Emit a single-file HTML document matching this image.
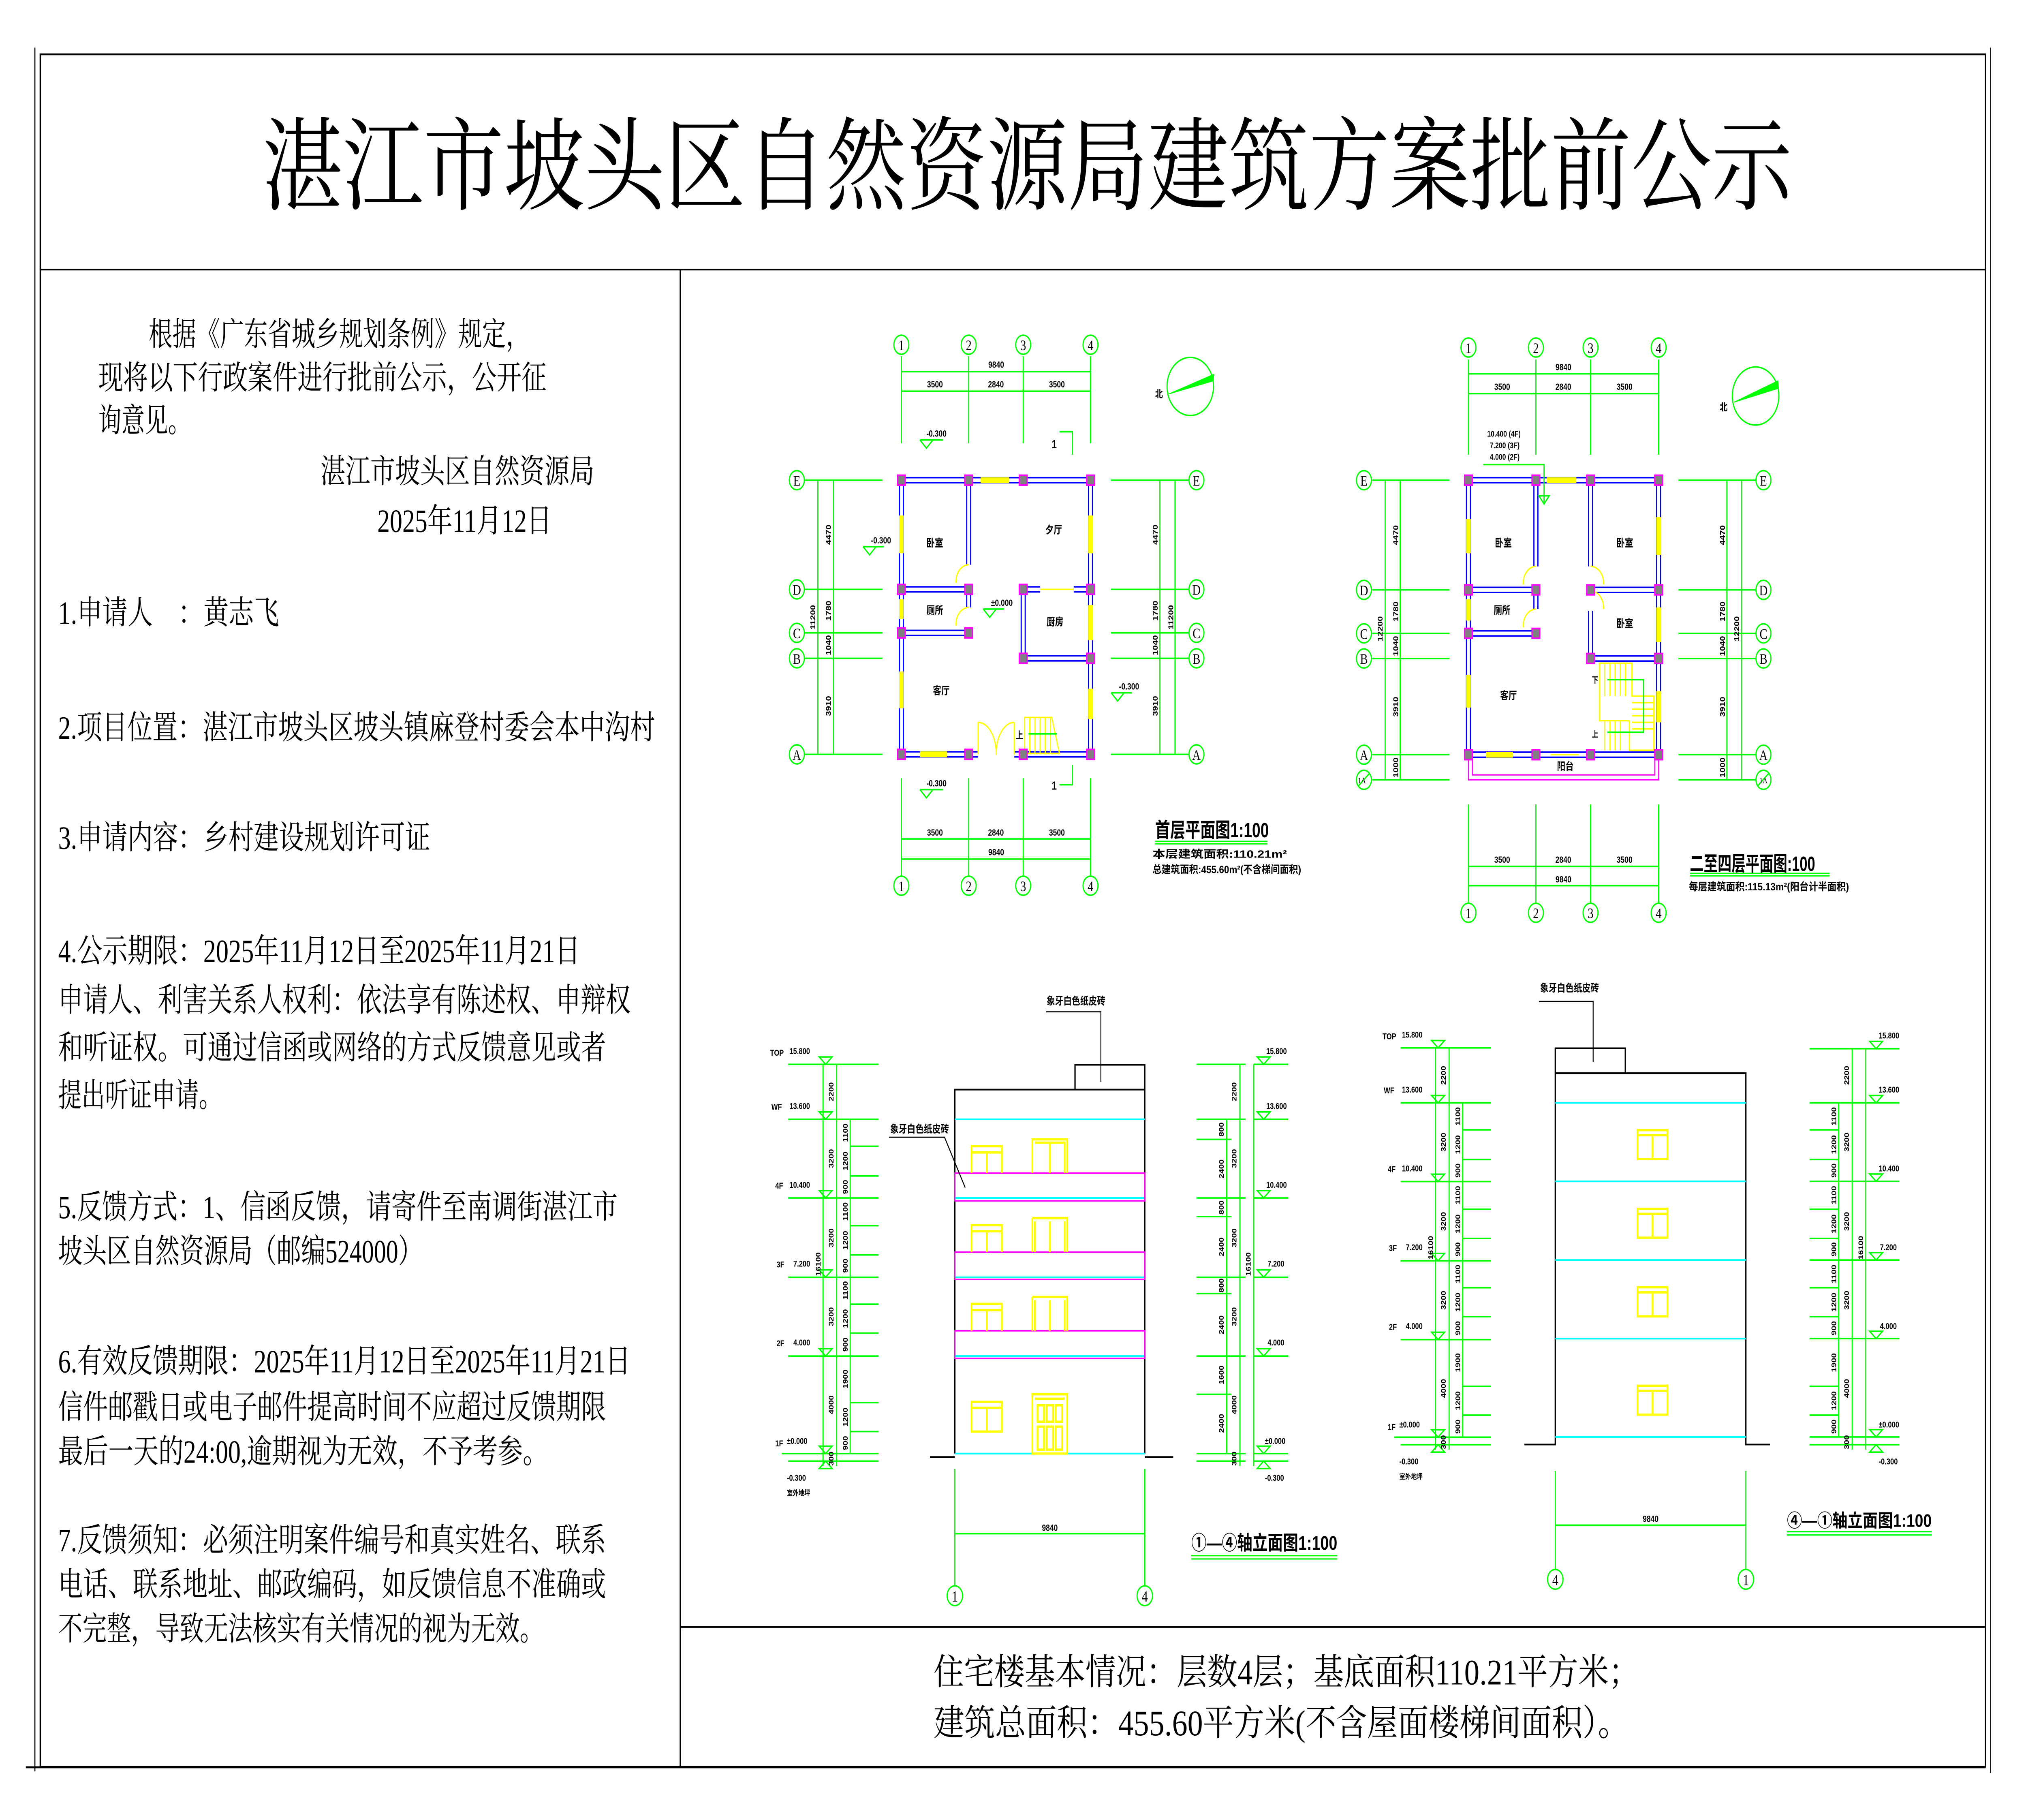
<!DOCTYPE html>
<html><head><meta charset="utf-8"><style>
html,body{margin:0;padding:0;background:#fff;overflow:hidden;width:100vw;height:100vh;}
svg{display:block;width:100vw;height:100vh;}
.s{font-family:"Liberation Serif","Noto Serif CJK SC",serif;fill:#000;}
.d{font-family:"Liberation Sans","Noto Sans CJK SC",sans-serif;fill:#000;font-weight:bold;}
.g{stroke:#00ff00;stroke-width:0.9;fill:none;}
.wb{stroke:#0000ff;stroke-width:4;fill:none;}
.ww{stroke:#fff;stroke-width:2.2;fill:none;}
.y{stroke:#ffff00;stroke-width:3.6;fill:none;}
.yl{stroke:#ffff00;stroke-width:0.9;fill:none;}
.c{fill:#fff;stroke:#00ff00;stroke-width:0.9;}
.col{fill:#808080;stroke:#ff00ff;stroke-width:1;}
</style></head><body>
<svg xmlns="http://www.w3.org/2000/svg" viewBox="0 0 1568 1108.6" preserveAspectRatio="none">
<rect width="1568" height="1108.6" fill="#fff"/>
<g stroke="#000" fill="none">
<line x1="27" y1="29" x2="27" y2="1079" stroke-width="0.8"/>
<rect x="31.2" y="33.1" width="1505.5" height="1043" stroke-width="1.1"/>
<line x1="31.2" y1="164.2" x2="1536.7" y2="164.2" stroke-width="1"/>
<line x1="526.5" y1="164.2" x2="526.5" y2="1076" stroke-width="1"/>
<line x1="526.5" y1="991" x2="1536.7" y2="991" stroke-width="1.1"/>
<line x1="1540.6" y1="29" x2="1540.6" y2="1080" stroke-width="0.6"/>
<line x1="20" y1="1076.5" x2="1536.7" y2="1076.5" stroke-width="1.2"/>
</g>
<text class="s" x="203" y="123" font-size="62" textLength="1184" lengthAdjust="spacingAndGlyphs">湛江市坡头区自然资源局建筑方案批前公示</text>

<g class="s" font-size="20">
<text x="115" y="210.5" textLength="295" lengthAdjust="spacingAndGlyphs">根据《广东省城乡规划条例》规定，</text>
<text x="76" y="237" textLength="347" lengthAdjust="spacingAndGlyphs">现将以下行政案件进行批前公示，公开征</text>
<text x="76" y="263" textLength="72" lengthAdjust="spacingAndGlyphs">询意见。</text>
<text x="248" y="294" textLength="212" lengthAdjust="spacingAndGlyphs">湛江市坡头区自然资源局</text>
<text x="292" y="324" textLength="135" lengthAdjust="spacingAndGlyphs">2025年11月12日</text>
<text x="45" y="380" textLength="171" lengthAdjust="spacingAndGlyphs">1.申请人　：黄志飞</text>
<text x="45" y="450" textLength="462" lengthAdjust="spacingAndGlyphs">2.项目位置：湛江市坡头区坡头镇麻登村委会本中沟村</text>
<text x="45" y="517" textLength="288" lengthAdjust="spacingAndGlyphs">3.申请内容：乡村建设规划许可证</text>
<text x="45" y="586" textLength="404" lengthAdjust="spacingAndGlyphs">4.公示期限：2025年11月12日至2025年11月21日</text>
<text x="45" y="616" textLength="443" lengthAdjust="spacingAndGlyphs">申请人、利害关系人权利：依法享有陈述权、申辩权</text>
<text x="45" y="645" textLength="424" lengthAdjust="spacingAndGlyphs">和听证权。可通过信函或网络的方式反馈意见或者</text>
<text x="45" y="674" textLength="127" lengthAdjust="spacingAndGlyphs">提出听证申请。</text>
<text x="45" y="742" textLength="433" lengthAdjust="spacingAndGlyphs">5.反馈方式：1、信函反馈，请寄件至南调街湛江市</text>
<text x="45" y="769" textLength="282" lengthAdjust="spacingAndGlyphs">坡头区自然资源局（邮编524000）</text>
<text x="45" y="836" textLength="443" lengthAdjust="spacingAndGlyphs">6.有效反馈期限：2025年11月12日至2025年11月21日</text>
<text x="45" y="864" textLength="424" lengthAdjust="spacingAndGlyphs">信件邮戳日或电子邮件提高时间不应超过反馈期限</text>
<text x="45" y="891" textLength="379" lengthAdjust="spacingAndGlyphs">最后一天的24:00,逾期视为无效，不予考参。</text>
<text x="45" y="945" textLength="424" lengthAdjust="spacingAndGlyphs">7.反馈须知：必须注明案件编号和真实姓名、联系</text>
<text x="45" y="972" textLength="424" lengthAdjust="spacingAndGlyphs">电话、联系地址、邮政编码，如反馈信息不准确或</text>
<text x="45" y="999" textLength="376" lengthAdjust="spacingAndGlyphs">不完整，导致无法核实有关情况的视为无效。</text>
</g>
<g class="s" font-size="22">
<text x="722.5" y="1026" textLength="546" lengthAdjust="spacingAndGlyphs">住宅楼基本情况：层数4层；基底面积110.21平方米；</text>
<text x="722.5" y="1057" textLength="538" lengthAdjust="spacingAndGlyphs">建筑总面积：455.60平方米(不含屋面楼梯间面积）。</text>
</g>

<!-- PLAN 1 -->
<g>
<path class="g" d="M697.6,217V270 M749.7,217V270 M791.9,217V270 M844,217V270 M697.6,226.4H844 M697.6,238.3H844"/>
<path class="g" d="M697.6,474V534 M749.7,474V534 M791.9,474V534 M844,474V534 M697.6,511H844 M697.6,523.3H844"/>
<g class="d" font-size="5.5" text-anchor="middle">
<text x="771" y="224">9840</text><text x="723.6" y="236">3500</text><text x="770.8" y="236">2840</text><text x="818" y="236">3500</text>
<text x="723.6" y="509">3500</text><text x="770.8" y="509">2840</text><text x="818" y="509">3500</text><text x="771" y="521">9840</text>
</g>
<g><circle class="c" cx="697.6" cy="210" r="5.8"/><circle class="c" cx="749.7" cy="210" r="5.8"/><circle class="c" cx="791.9" cy="210" r="5.8"/><circle class="c" cx="844" cy="210" r="5.8"/>
<circle class="c" cx="697.6" cy="539.5" r="5.8"/><circle class="c" cx="749.7" cy="539.5" r="5.8"/><circle class="c" cx="791.9" cy="539.5" r="5.8"/><circle class="c" cx="844" cy="539.5" r="5.8"/></g>
<g class="s" font-size="9" text-anchor="middle">
<text x="697.6" y="213.3">1</text><text x="749.7" y="213.3">2</text><text x="791.9" y="213.3">3</text><text x="844" y="213.3">4</text>
<text x="697.6" y="542.8">1</text><text x="749.7" y="542.8">2</text><text x="791.9" y="542.8">3</text><text x="844" y="542.8">4</text>
</g>
<path class="g" d="M623,292.5H683 M623,359H683 M623,385.5H683 M623,401H683 M623,459.5H683 M633,292.5V459.5 M645,292.5V459.5"/>
<path class="g" d="M859.8,292.5H920 M859.8,359H920 M859.8,385.5H920 M859.8,401H920 M859.8,459.5H920 M897.7,292.5V459.5 M909.4,292.5V459.5"/>
<g>
<circle class="c" cx="616.7" cy="292.5" r="5.8"/><circle class="c" cx="616.7" cy="359" r="5.8"/><circle class="c" cx="616.7" cy="385.5" r="5.8"/><circle class="c" cx="616.7" cy="401" r="5.8"/><circle class="c" cx="616.7" cy="459.5" r="5.8"/>
<circle class="c" cx="926" cy="292.5" r="5.8"/><circle class="c" cx="926" cy="359" r="5.8"/><circle class="c" cx="926" cy="385.5" r="5.8"/><circle class="c" cx="926" cy="401" r="5.8"/><circle class="c" cx="926" cy="459.5" r="5.8"/>
</g>
<g class="s" font-size="9" text-anchor="middle">
<text x="616.7" y="295.8">E</text><text x="616.7" y="362.3">D</text><text x="616.7" y="388.8">C</text><text x="616.7" y="404.3">B</text><text x="616.7" y="462.8">A</text>
<text x="926" y="295.8">E</text><text x="926" y="362.3">D</text><text x="926" y="388.8">C</text><text x="926" y="404.3">B</text><text x="926" y="462.8">A</text>
</g>
<g class="d" font-size="5.5" text-anchor="middle">
<text transform="translate(643,325.7) rotate(-90)">4470</text><text transform="translate(643,372) rotate(-90)">1780</text><text transform="translate(643,393) rotate(-90)">1040</text><text transform="translate(643,430) rotate(-90)">3910</text><text transform="translate(631,376) rotate(-90)">11200</text>
<text transform="translate(896,325.7) rotate(-90)">4470</text><text transform="translate(896,372) rotate(-90)">1780</text><text transform="translate(896,393) rotate(-90)">1040</text><text transform="translate(896,430) rotate(-90)">3910</text><text transform="translate(908,376) rotate(-90)">11200</text>
</g>
<path class="g" d="M820,263H830V277 M820,478H830V466"/>
<text class="d" x="814" y="273" font-size="7">1</text><text class="d" x="814" y="481" font-size="7">1</text>
<g class="wb"><path d="M785,459.5H844V292.5H697.6V459.5H757 M749.7,292.5V344 M749.7,356V370 M697.6,359H749.7 M697.6,385.5H749.7 M791.9,359H805 M831,359H844 M791.9,359V401H844"/></g>
<g class="ww"><path d="M785,459.5H844V292.5H697.6V459.5H757 M749.7,292.5V344 M749.7,356V370 M697.6,359H749.7 M697.6,385.5H749.7 M791.9,359H805 M831,359H844 M791.9,359V401H844"/></g>
<g class="y"><path d="M759,292.5H781 M697.6,314V337 M844,314V337 M697.6,365V377 M844,368.5V390 M697.6,409V431.5 M844,419.5V438 M712,459.5H733"/></g>
<path class="yl" d="M805,359H831 M749.7,344A10,10 0 0 0 740,355 M749.7,370A10,10 0 0 0 740,381 M757,459.5V440 M785,459.5V440 M757,440A14,19 0 0 1 771,460 M785,440A14,19 0 0 0 771,460"/>
<g class="yl"><path d="M793,437H814L820,459H793Z M797,437V459 M801,437V459 M805,437V459 M809,437V459 M813,437V459"/></g>
<path class="g" d="M796,447H818"/>
<text class="d" x="786" y="450" font-size="6">上</text>
<g>
<rect class="col" x="694.6" y="289.5" width="6" height="6"/><rect class="col" x="746.7" y="289.5" width="6" height="6"/><rect class="col" x="788.9" y="289.5" width="6" height="6"/><rect class="col" x="841" y="289.5" width="6" height="6"/>
<rect class="col" x="694.6" y="356" width="6" height="6"/><rect class="col" x="746.7" y="356" width="6" height="6"/><rect class="col" x="788.9" y="356" width="6" height="6"/><rect class="col" x="841" y="356" width="6" height="6"/>
<rect class="col" x="694.6" y="382.5" width="6" height="6"/><rect class="col" x="746.7" y="382.5" width="6" height="6"/><rect class="col" x="788.9" y="398" width="6" height="6"/><rect class="col" x="841" y="398" width="6" height="6"/>
<rect class="col" x="694.6" y="456.5" width="6" height="6"/><rect class="col" x="746.7" y="456.5" width="6" height="6"/><rect class="col" x="788.9" y="456.5" width="6" height="6"/><rect class="col" x="841" y="456.5" width="6" height="6"/>
</g>
<g class="d" font-size="6.5">
<text x="717" y="333">卧室</text><text x="809" y="325">夕厅</text><text x="717" y="374">厕所</text><text x="810" y="381">厨房</text><text x="722" y="423">客厅</text>
</g>
<g class="d" font-size="5.5">
<text x="674" y="331">-0.300</text><text x="767" y="369">±0.000</text><text x="866" y="420">-0.300</text><text x="717" y="479">-0.300</text><text x="717" y="266">-0.300</text>
</g>
<path class="g" d="M668,333H684 M668,333L673,338L678,333 M761,371H777 M761,371L766,376L771,371 M860,422H876 M860,422L865,427L870,422 M712,481H730 M712,481L717,486L722,481 M712,268H730 M712,268L717,273L722,268"/>
<ellipse class="g" cx="921.2" cy="235.4" rx="18" ry="17.7"/>
<path d="M904.5,240L939,232L939.5,228Z" fill="#00ff00" stroke="#00ff00" stroke-width="0.5"/>
<text class="d" x="894" y="242" font-size="6">北</text>
<text class="d" x="894" y="510" font-size="12.5" font-weight="normal" textLength="88" lengthAdjust="spacingAndGlyphs">首层平面图1:100</text>
<path d="M894,512.5H981 M894,514H981" stroke="#00ff00" stroke-width="0.8"/>
<text class="d" x="892" y="522.4" font-size="6.5" textLength="104" lengthAdjust="spacingAndGlyphs">本层建筑面积:110.21m²</text>
<text class="d" x="892" y="531.8" font-size="6.5" textLength="115" lengthAdjust="spacingAndGlyphs">总建筑面积:455.60m²(不含梯间面积)</text>
</g>

<!-- PLAN 2 -->
<g>
<path class="g" d="M1136.5,219V277 M1188.7,219V277 M1231,219V277 M1283.7,219V277 M1136.5,227.7H1283.7 M1136.5,239.8H1283.7"/>
<path class="g" d="M1136.5,490V552 M1188.7,490V552 M1231,490V552 M1283.7,490V552 M1136.5,527.7H1283.7 M1136.5,539.5H1283.7"/>
<g class="d" font-size="5.5" text-anchor="middle">
<text x="1210" y="225.5">9840</text><text x="1162.6" y="237.5">3500</text><text x="1209.9" y="237.5">2840</text><text x="1257.3" y="237.5">3500</text>
<text x="1162.6" y="525.5">3500</text><text x="1209.9" y="525.5">2840</text><text x="1257.3" y="525.5">3500</text><text x="1210" y="537.5">9840</text>
</g>
<g><circle class="c" cx="1136.5" cy="211.7" r="5.8"/><circle class="c" cx="1188.7" cy="211.7" r="5.8"/><circle class="c" cx="1231" cy="211.7" r="5.8"/><circle class="c" cx="1283.7" cy="211.7" r="5.8"/>
<circle class="c" cx="1136.5" cy="556" r="5.8"/><circle class="c" cx="1188.7" cy="556" r="5.8"/><circle class="c" cx="1231" cy="556" r="5.8"/><circle class="c" cx="1283.7" cy="556" r="5.8"/></g>
<g class="s" font-size="9" text-anchor="middle">
<text x="1136.5" y="215">1</text><text x="1188.7" y="215">2</text><text x="1231" y="215">3</text><text x="1283.7" y="215">4</text>
<text x="1136.5" y="559.3">1</text><text x="1188.7" y="559.3">2</text><text x="1231" y="559.3">3</text><text x="1283.7" y="559.3">4</text>
</g>
<path class="g" d="M1062,292.5H1121.8 M1062,359.3H1121.8 M1062,385.8H1121.8 M1062,401.1H1121.8 M1062,459.7H1121.8 M1062,475H1121.8 M1072,292.5V475 M1083.7,292.5V475"/>
<path class="g" d="M1299,292.5H1359 M1299,359.3H1359 M1299,385.8H1359 M1299,401.1H1359 M1299,459.7H1359 M1299,475H1359 M1336.5,292.5V475 M1348,292.5V475"/>
<g>
<circle class="c" cx="1055.6" cy="292.5" r="5.8"/><circle class="c" cx="1055.6" cy="359.3" r="5.8"/><circle class="c" cx="1055.6" cy="385.8" r="5.8"/><circle class="c" cx="1055.6" cy="401.1" r="5.8"/><circle class="c" cx="1055.6" cy="459.7" r="5.8"/><circle class="c" cx="1055.6" cy="475" r="5.8"/>
<circle class="c" cx="1364.8" cy="292.5" r="5.8"/><circle class="c" cx="1364.8" cy="359.3" r="5.8"/><circle class="c" cx="1364.8" cy="385.8" r="5.8"/><circle class="c" cx="1364.8" cy="401.1" r="5.8"/><circle class="c" cx="1364.8" cy="459.7" r="5.8"/><circle class="c" cx="1364.8" cy="475" r="5.8"/>
</g>
<path class="g" d="M1051,479L1060,471 M1360,479L1369,471"/>
<g class="s" font-size="9" text-anchor="middle">
<text x="1055.6" y="295.8">E</text><text x="1055.6" y="362.6">D</text><text x="1055.6" y="389.1">C</text><text x="1055.6" y="404.4">B</text><text x="1055.6" y="463">A</text><text x="1054" y="477" font-size="5">1A</text>
<text x="1364.8" y="295.8">E</text><text x="1364.8" y="362.6">D</text><text x="1364.8" y="389.1">C</text><text x="1364.8" y="404.4">B</text><text x="1364.8" y="463">A</text><text x="1364.8" y="477" font-size="5">1A</text>
</g>
<g class="d" font-size="5.5" text-anchor="middle">
<text transform="translate(1082,326) rotate(-90)">4470</text><text transform="translate(1082,372.5) rotate(-90)">1780</text><text transform="translate(1082,393.5) rotate(-90)">1040</text><text transform="translate(1082,430.5) rotate(-90)">3910</text><text transform="translate(1082,467.5) rotate(-90)">1000</text><text transform="translate(1070,383) rotate(-90)">12200</text>
<text transform="translate(1335,326) rotate(-90)">4470</text><text transform="translate(1335,372.5) rotate(-90)">1780</text><text transform="translate(1335,393.5) rotate(-90)">1040</text><text transform="translate(1335,430.5) rotate(-90)">3910</text><text transform="translate(1335,467.5) rotate(-90)">1000</text><text transform="translate(1346,383) rotate(-90)">12200</text>
</g>
<path d="M1136.5,459.7V475H1283.7V459.7 M1139.5,459.7V472H1280.7V459.7" stroke="#ff00ff" stroke-width="0.8" fill="none"/>
<g class="wb"><path d="M1136.5,459.7V292.5H1283.7V459.7H1136.5 M1188.7,292.5V345 M1188.7,356V371 M1136.5,359.3H1188.7 M1136.5,385.8H1188.7 M1231,292.5V345 M1231,372V401.1H1283.7 M1231,359.3H1283.7"/></g>
<g class="ww"><path d="M1136.5,459.7V292.5H1283.7V459.7H1136.5 M1188.7,292.5V345 M1188.7,356V371 M1136.5,359.3H1188.7 M1136.5,385.8H1188.7 M1231,292.5V345 M1231,372V401.1H1283.7 M1231,359.3H1283.7"/></g>
<g class="y"><path d="M1197,292.5H1220 M1136.5,316V337 M1283.7,315V338 M1136.5,365V378 M1283.7,370V391 M1136.5,411V431 M1150,459.7H1171 M1283.7,421V440"/></g>
<path class="yl" d="M1200,459.7H1222 M1188.7,345A10,10 0 0 0 1179,356 M1188.7,371A10,10 0 0 0 1179,382 M1231,345A10,10 0 0 1 1241,356 M1231,360A10,10 0 0 1 1241,371"/>
<g class="yl"><path d="M1238,404H1263V424H1280V457H1261V439H1238Z M1242,404V424 M1246,404V424 M1250,404V424 M1254,404V424 M1258,404V424 M1242,439V457 M1246,439V457 M1250,439V457 M1254,439V457 M1263,428H1280 M1263,432H1280 M1263,436H1280 M1263,440H1280 M1263,444H1280"/></g>
<path class="g" d="M1244,414H1272V446H1244"/>
<g class="d" font-size="5"><text x="1232" y="416">下</text><text x="1232" y="449">上</text></g>
<g>
<rect class="col" x="1133.5" y="289.5" width="6" height="6"/><rect class="col" x="1185.7" y="289.5" width="6" height="6"/><rect class="col" x="1228" y="289.5" width="6" height="6"/><rect class="col" x="1280.7" y="289.5" width="6" height="6"/>
<rect class="col" x="1133.5" y="356.3" width="6" height="6"/><rect class="col" x="1185.7" y="356.3" width="6" height="6"/><rect class="col" x="1228" y="356.3" width="6" height="6"/><rect class="col" x="1280.7" y="356.3" width="6" height="6"/>
<rect class="col" x="1133.5" y="382.8" width="6" height="6"/><rect class="col" x="1185.7" y="382.8" width="6" height="6"/><rect class="col" x="1228" y="398.1" width="6" height="6"/><rect class="col" x="1280.7" y="398.1" width="6" height="6"/>
<rect class="col" x="1133.5" y="456.7" width="6" height="6"/><rect class="col" x="1185.7" y="456.7" width="6" height="6"/><rect class="col" x="1228" y="456.7" width="6" height="6"/><rect class="col" x="1280.7" y="456.7" width="6" height="6"/>
</g>
<g class="d" font-size="6.5">
<text x="1157" y="333">卧室</text><text x="1251" y="333">卧室</text><text x="1156" y="374">厕所</text><text x="1251" y="382">卧室</text><text x="1161" y="426">客厅</text><text x="1205" y="469">阳台</text>
</g>
<g class="d" font-size="5"><text x="1151" y="266">10.400 (4F)</text><text x="1153" y="273">7.200 (3F)</text><text x="1153" y="280">4.000 (2F)</text></g>
<path class="g" d="M1148,283H1195V306 M1191,302L1195,307L1199,302Z"/>
<ellipse class="g" cx="1358.7" cy="241.2" rx="18" ry="17.7"/>
<path d="M1342,245L1376.5,236.5L1376,232Z" fill="#00ff00" stroke="#00ff00" stroke-width="0.5"/>
<text class="d" x="1331" y="250" font-size="6">北</text>
<text class="d" x="1307.8" y="530.5" font-size="12.5" font-weight="normal" textLength="97" lengthAdjust="spacingAndGlyphs">二至四层平面图:100</text>
<path d="M1308,532H1416 M1308,533.5H1416" stroke="#00ff00" stroke-width="0.8"/>
<text class="d" x="1307" y="542.3" font-size="6.5" textLength="124" lengthAdjust="spacingAndGlyphs">每层建筑面积:115.13m²(阳台计半面积)</text>
</g>

<defs>
<g id="eL">
<path class="g" d="M610,648.3H680 M610,681.8H680 M610,729.7H680 M610,778H680 M610,826H680 M605,885.4H680 M610,890H680 M637,648.3V893 M647.5,648.3V893 M658,681.8V885.4 M658,698.2H680 M658,716.3H680 M658,746.6H680 M658,764.4H680 M658,794.4H680 M658,812H680 M658,854.4H680 M658,872H680"/>
<path class="g" d="M634,643.8H644L639,648.3Z M634,677.3H644L639,681.8Z M634,725.2H644L639,729.7Z M634,773.5H644L639,778Z M634,821.5H644L639,826Z M634,880.9H644L639,885.4Z M634,894.5H644L639,890Z"/>
<g class="d" font-size="5.2" font-weight="normal">
<text x="596" y="643">TOP</text><text x="611" y="642">15.800</text>
<text x="597" y="676">WF</text><text x="611" y="675.5">13.600</text>
<text x="600" y="724">4F</text><text x="611" y="723.5">10.400</text>
<text x="601" y="772">3F</text><text x="614" y="771.5">7.200</text>
<text x="601" y="820">2F</text><text x="614" y="819.5">4.000</text>
<text x="600" y="881">1F</text><text x="609" y="879.5">±0.000</text>
<text x="609" y="902">-0.300</text><text x="609" y="911" font-size="4.5">室外地坪</text>
</g>
<g class="d" font-size="5.2" font-weight="normal" text-anchor="middle">
<text transform="translate(645,665) rotate(-90)">2200</text><text transform="translate(645,705.7) rotate(-90)">3200</text><text transform="translate(645,754) rotate(-90)">3200</text><text transform="translate(645,802) rotate(-90)">3200</text><text transform="translate(645,855.7) rotate(-90)">4000</text><text transform="translate(635,770) rotate(-90)">16100</text>
<text transform="translate(656,690) rotate(-90)">1100</text><text transform="translate(656,707.2) rotate(-90)">1200</text><text transform="translate(656,723) rotate(-90)">900</text>
<text transform="translate(656,738) rotate(-90)">1100</text><text transform="translate(656,755.5) rotate(-90)">1200</text><text transform="translate(656,771) rotate(-90)">900</text>
<text transform="translate(656,786) rotate(-90)">1100</text><text transform="translate(656,803.2) rotate(-90)">1200</text><text transform="translate(656,819) rotate(-90)">900</text>
<text transform="translate(656,840) rotate(-90)">1900</text><text transform="translate(656,863.2) rotate(-90)">1200</text><text transform="translate(656,879) rotate(-90)">900</text><text transform="translate(645,888.5) rotate(-90)">300</text>
</g>
</g>
</defs>

<use href="#eL"/>
<g>
<path d="M739,885.4V663.7H886V885.4 M832,663.7V648.6H886V663.7 M719.7,887.5H739 M886,887.5H908" stroke="#000" stroke-width="1" fill="none"/>
<path d="M739,681.8H886 M739,729.7H886 M739,778H886 M739,826H886 M739,885.4H886" stroke="#00ffff" stroke-width="1"/>
<path d="M739,714.6H886V731.5H739Z M739,762.7H886V779.3H739Z M739,810.6H886V827.4H739Z" stroke="#ff00ff" stroke-width="0.9" fill="none"/>
<g stroke="#ffff00" stroke-width="1.4" fill="none">
<path d="M752,714.6V698.2H775.4V714.6 M752,702H775.4 M763.7,702V714.6"/>
<path d="M752,762.7V746.3H775.4V762.7 M752,750H775.4 M763.7,750V762.7"/>
<path d="M752,810.6V794.2H775.4V810.6 M752,798H775.4 M763.7,798V810.6"/>
<path d="M799,714.6V694H826V714.6 M801,696H824V714.6 M812.5,696V714.6 M799,742V762.7 M799,742H826V762.7 M812.5,744V762.7 M801,744V762.7 M824,744V762.7 M799,790H826V810.6 M799,790V810.6 M812.5,792V810.6 M801,792V810.6 M824,792V810.6"/>
<path d="M752,853.9H775.4V872H752Z M752,857.5H775.4 M763.7,857.5V872"/>
<path d="M799,849.3H826V885.4H799Z M801,852H824 M803,856H808V866H803Z M810,856H815V866H810Z M817,856H822V866H817Z M803,869H808V883H803Z M810,869H815V883H810Z M817,869H822V883H817Z"/>
</g>
<path class="g" d="M739,894.7V967.7 M886,894.7V967.7 M739,934.2H886"/>
<text class="d" x="812.5" y="932.5" font-size="5.5" text-anchor="middle" font-weight="normal">9840</text>
<circle class="c" cx="739" cy="972" r="6"/><circle class="c" cx="886" cy="972" r="6"/>
<text class="s" x="739" y="975.5" font-size="9.5" text-anchor="middle">1</text><text class="s" x="886" y="975.5" font-size="9.5" text-anchor="middle">4</text>
<path d="M809.7,616.3H852V659 M688,692.7H731L747,723.4" stroke="#000" stroke-width="0.7" fill="none"/>
<text class="d" x="810" y="612" font-size="6.5">象牙白色纸皮砖</text>
<text class="d" x="689" y="690" font-size="6.5">象牙白色纸皮砖</text>
<path class="g" d="M926,648.3H964 M926,681.8H964 M926,729.7H964 M926,778H964 M926,826H964 M926,885.4H964 M926,890H964 M949.4,681.8V885.4 M959.6,648.3V893 M970.3,648.3V893 M926,694H953 M926,741H953 M926,788H953 M926,849.3H953 M970.3,648.3H997 M970.3,681.8H997 M970.3,729.7H997 M970.3,778H997 M970.3,826H997 M970.3,885.4H997 M970.3,890H997"/>
<path class="g" d="M973,643.8H983L978,648.3Z M973,677.3H983L978,681.8Z M973,725.2H983L978,729.7Z M973,773.5H983L978,778Z M973,821.5H983L978,826Z M973,880.9H983L978,885.4Z M973,894.5H983L978,890Z"/>
<g class="d" font-size="5.2" font-weight="normal">
<text x="980" y="642">15.800</text><text x="980" y="675.5">13.600</text><text x="980" y="723.5">10.400</text><text x="981" y="771.5">7.200</text><text x="981" y="819.5">4.000</text><text x="979" y="879.5">±0.000</text><text x="979" y="902">-0.300</text>
</g>
<g class="d" font-size="5.2" font-weight="normal" text-anchor="middle">
<text transform="translate(947,688) rotate(-90)">800</text><text transform="translate(947,712) rotate(-90)">2400</text><text transform="translate(947,735.5) rotate(-90)">800</text><text transform="translate(947,759.5) rotate(-90)">2400</text><text transform="translate(947,783) rotate(-90)">800</text><text transform="translate(947,807) rotate(-90)">2400</text><text transform="translate(947,837.5) rotate(-90)">1600</text><text transform="translate(947,867) rotate(-90)">2400</text>
<text transform="translate(957,665) rotate(-90)">2200</text><text transform="translate(957,705.7) rotate(-90)">3200</text><text transform="translate(957,754) rotate(-90)">3200</text><text transform="translate(957,802) rotate(-90)">3200</text><text transform="translate(957,855.7) rotate(-90)">4000</text><text transform="translate(957,888.5) rotate(-90)">300</text><text transform="translate(968,770) rotate(-90)">16100</text>
</g>
<text class="d" x="922" y="944" font-size="12" font-weight="normal" textLength="113" lengthAdjust="spacingAndGlyphs">①—④轴立面图1:100</text>
<path d="M922,947.6H1035 M922,949.6H1035" stroke="#00ff00" stroke-width="0.8"/>
</g>

<use href="#eL" transform="translate(474,-10)"/>
<g>
<path d="M1203.7,875.3V653.7H1351.2V875.3 M1203.7,653.7V638.5H1257.9V653.7 M1179.8,879.9H1203.7V875.3 M1351.2,875.3V879.9H1369.8" stroke="#000" stroke-width="1" fill="none"/>
<path d="M1203.7,671.8H1351.2 M1203.7,719.6H1351.2 M1203.7,767.5H1351.2 M1203.7,815.4H1351.2 M1203.7,875.3H1351.2" stroke="#00ffff" stroke-width="1"/>
<g stroke="#ffff00" stroke-width="1.4" fill="none">
<path d="M1267.4,688.4H1290.5V706H1267.4Z M1267.4,691.5H1290.5 M1279,691.5V706"/>
<path d="M1267.4,736.3H1290.5V753.9H1267.4Z M1267.4,739.4H1290.5 M1279,739.4V753.9"/>
<path d="M1267.4,784.1H1290.5V801.8H1267.4Z M1267.4,787.2H1290.5 M1279,787.2V801.8"/>
<path d="M1267.4,844.1H1290.5V861.7H1267.4Z M1267.4,847.2H1290.5 M1279,847.2V861.7"/>
</g>
<path d="M1191,610H1233V647" stroke="#000" stroke-width="0.7" fill="none"/>
<text class="d" x="1192" y="604" font-size="6.5">象牙白色纸皮砖</text>
<path class="g" d="M1203.7,896V957 M1351.2,896V957 M1203.7,929H1351.2"/>
<text class="d" x="1277.5" y="927" font-size="5.5" text-anchor="middle" font-weight="normal">9840</text>
<circle class="c" cx="1203.7" cy="962" r="6"/><circle class="c" cx="1351.2" cy="962" r="6"/>
<text class="s" x="1203.7" y="965.5" font-size="9.5" text-anchor="middle">4</text><text class="s" x="1351.2" y="965.5" font-size="9.5" text-anchor="middle">1</text>
<path class="g" d="M1400.5,638.8H1470 M1400.5,671.8H1470 M1400.5,719.6H1470 M1400.5,767.5H1470 M1400.5,815.4H1470 M1400.5,875.3H1470 M1400.5,880H1470 M1423,671.8V875.3 M1433.5,638.8V883 M1444,638.8V883 M1400.5,688.2H1423 M1400.5,706.3H1423 M1400.5,736.6H1423 M1400.5,754.4H1423 M1400.5,784.4H1423 M1400.5,802H1423 M1400.5,844.4H1423 M1400.5,862H1423"/>
<path class="g" d="M1447,634.3H1457L1452,638.8Z M1447,667.3H1457L1452,671.8Z M1447,715.1H1457L1452,719.6Z M1447,763H1457L1452,767.5Z M1447,810.9H1457L1452,815.4Z M1447,870.8H1457L1452,875.3Z M1447,884.5H1457L1452,880Z"/>
<g class="d" font-size="5.2" font-weight="normal">
<text x="1454" y="632.5">15.800</text><text x="1454" y="665.5">13.600</text><text x="1454" y="713.5">10.400</text><text x="1455" y="761.5">7.200</text><text x="1455" y="809.5">4.000</text><text x="1454" y="869.5">±0.000</text><text x="1454" y="892">-0.300</text>
</g>
<g class="d" font-size="5.2" font-weight="normal" text-anchor="middle">
<text transform="translate(1421,680) rotate(-90)">1100</text><text transform="translate(1421,697.2) rotate(-90)">1200</text><text transform="translate(1421,713) rotate(-90)">900</text>
<text transform="translate(1421,728) rotate(-90)">1100</text><text transform="translate(1421,745.5) rotate(-90)">1200</text><text transform="translate(1421,761) rotate(-90)">900</text>
<text transform="translate(1421,776) rotate(-90)">1100</text><text transform="translate(1421,793.2) rotate(-90)">1200</text><text transform="translate(1421,809) rotate(-90)">900</text>
<text transform="translate(1421,830) rotate(-90)">1900</text><text transform="translate(1421,853.2) rotate(-90)">1200</text><text transform="translate(1421,869) rotate(-90)">900</text>
<text transform="translate(1431,655) rotate(-90)">2200</text><text transform="translate(1431,695.7) rotate(-90)">3200</text><text transform="translate(1431,744) rotate(-90)">3200</text><text transform="translate(1431,792) rotate(-90)">3200</text><text transform="translate(1431,845.7) rotate(-90)">4000</text><text transform="translate(1431,878.5) rotate(-90)">300</text><text transform="translate(1442,760) rotate(-90)">16100</text>
</g>
<text class="d" x="1383" y="930" font-size="11" font-weight="normal" textLength="112" lengthAdjust="spacingAndGlyphs">④—①轴立面图1:100</text>
<path d="M1383,933H1495 M1383,935H1495" stroke="#00ff00" stroke-width="0.8"/>
</g>
</svg>
</body></html>
